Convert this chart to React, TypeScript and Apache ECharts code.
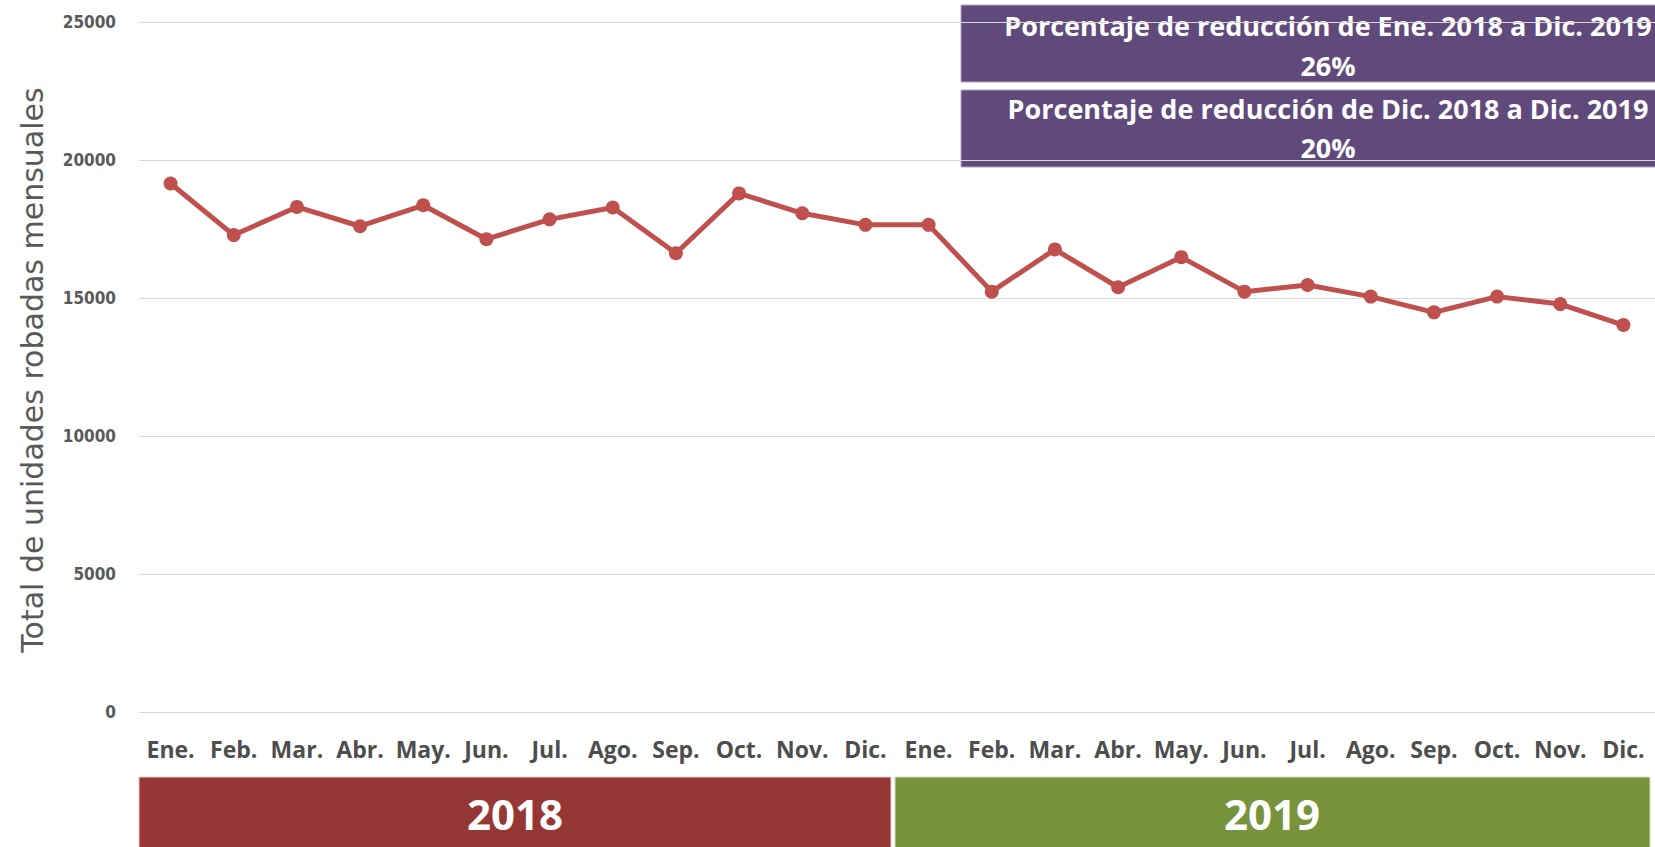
import React, { useEffect, useRef } from "react";
import * as echarts from "echarts";

const months = ["Ene.", "Feb.", "Mar.", "Abr.", "May.", "Jun.", "Jul.", "Ago.", "Sep.", "Oct.", "Nov.", "Dic."];
const categories = [...months, ...months];
const values2018 = [19150, 17280, 18300, 17600, 18360, 17130, 17850, 18280, 16620, 18790, 18070, 17650];
const values2019 = [17650, 15230, 16760, 15390, 16480, 15230, 15470, 15050, 14480, 15050, 14780, 14020];
const seriesValues = [...values2018, ...values2019];
const yTicks = { min: 0, max: 25000, interval: 5000 };
const yAxisTitle = "Total de unidades robadas mensuales";
const boxTexts = [
  ["Porcentaje de reducción de Ene. 2018 a Dic. 2019", "26%"],
  ["Porcentaje de reducción de Dic. 2018 a Dic. 2019", "20%"],
];
const years = ["2018", "2019"];

export default function App() {
  const ref = useRef<HTMLDivElement>(null);
  useEffect(() => {
    document.body.style.margin = "0";
    const chart = echarts.init(ref.current!, null, { renderer: "svg" });
    const boxFont = 'bold 27px "Open Sans"';
    chart.setOption({
      animation: false,
      backgroundColor: "#ffffff",
      grid: { left: 139, right: -5, top: 22, bottom: 135, containLabel: false },
      xAxis: {
        type: "category",
        data: categories,
        boundaryGap: true,
        axisLine: { show: false },
        axisTick: { show: false },
        axisLabel: {
          interval: 0,
          margin: 25,
          fontFamily: "Open Sans",
          fontWeight: "bold",
          fontSize: 23,
          color: "#4d4d4d",
        },
      },
      yAxis: {
        type: "value",
        min: yTicks.min,
        max: yTicks.max,
        interval: yTicks.interval,
        axisLine: { show: false },
        axisTick: { show: false },
        splitLine: { lineStyle: { color: "#d9d9d9", width: 1 } },
        axisLabel: {
          margin: 23,
          formatter: (v: number) => String(v),
          fontFamily: "DejaVu Sans Condensed",
          fontWeight: "bold",
          fontSize: 17,
          color: "#595959",
        },
      },
      series: [
        {
          type: "line",
          data: seriesValues,
          symbol: "circle",
          symbolSize: 14,
          itemStyle: { color: "#C0504D" },
          lineStyle: { color: "#C0504D", width: 5 },
        },
      ],
      graphic: [
        {
          type: "text",
          x: 32,
          y: 370,
          rotation: Math.PI / 2,
          style: {
            text: yAxisTitle,
            font: 'normal 30px "DejaVu Sans"',
            fill: "#595959",
            textAlign: "center",
            textVerticalAlign: "middle",
          },
        },
        {
          type: "rect",
          shape: { x: 961, y: 5, width: 700, height: 77 },
          style: { fill: "#604A7B", stroke: "#b3a6c6", lineWidth: 1 },
        },
        {
          type: "rect",
          shape: { x: 961, y: 90, width: 700, height: 77 },
          style: { fill: "#604A7B", stroke: "#b3a6c6", lineWidth: 1 },
        },
        { type: "text", x: 1328, y: 25, style: { text: boxTexts[0][0], font: boxFont, fill: "#ffffff", textAlign: "center", textVerticalAlign: "middle" } },
        { type: "text", x: 1328, y: 65, style: { text: boxTexts[0][1], font: boxFont, fill: "#ffffff", textAlign: "center", textVerticalAlign: "middle" } },
        { type: "text", x: 1328, y: 108, style: { text: boxTexts[1][0], font: boxFont, fill: "#ffffff", textAlign: "center", textVerticalAlign: "middle" } },
        { type: "text", x: 1328, y: 147, style: { text: boxTexts[1][1], font: boxFont, fill: "#ffffff", textAlign: "center", textVerticalAlign: "middle" } },
        {
          type: "rect",
          shape: { x: 139, y: 777, width: 752, height: 75 },
          style: { fill: "#953735", stroke: "#e6d0d0", lineWidth: 1 },
        },
        {
          type: "rect",
          shape: { x: 895, y: 777, width: 755, height: 75 },
          style: { fill: "#77933C", stroke: "#d6e0c4", lineWidth: 1 },
        },
        { type: "text", x: 515, y: 813, style: { text: years[0], font: 'bold 42px "Open Sans"', fill: "#ffffff", textAlign: "center", textVerticalAlign: "middle" } },
        { type: "text", x: 1272, y: 813, style: { text: years[1], font: 'bold 42px "Open Sans"', fill: "#ffffff", textAlign: "center", textVerticalAlign: "middle" } },
      ],
    });
    return () => chart.dispose();
  }, []);
  return <div ref={ref} style={{ width: 1655, height: 847 }} />;
}
